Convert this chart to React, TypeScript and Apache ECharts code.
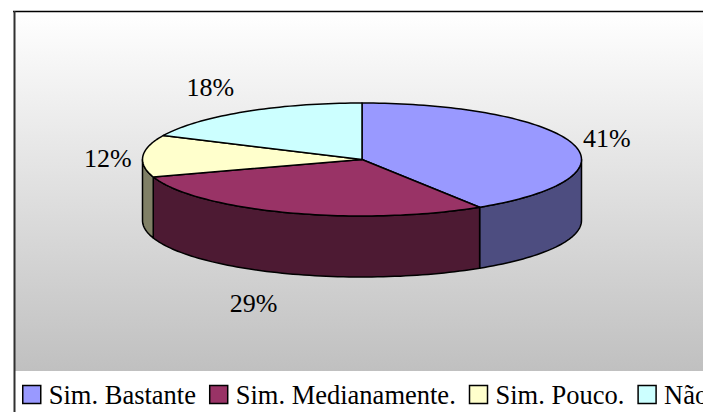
import React, { useEffect, useRef } from "react";
import * as echarts from "echarts";

const categories = ["Sim. Bastante", "Sim. Medianamente.", "Sim. Pouco.", "Não"];
const values = [41, 29, 12, 18];
const topColors = ["#9999FF", "#993366", "#FFFFCC", "#CCFFFF"];
const sideColors = ["#4D4D80", "#4D1A33", "#808066", "#668080"];
const labelOffsets = [[34, -5], [-34, 30], [-35, 3], [-34, -24]];
const legendPaddingRight = [0, 0, 5, 0];

const CX = 362;
const CY = 159.5;
const RX = 219.5;
const RY = 56.5;
const DEPTH = 61;
const FONT = '"Liberation Serif", "Times New Roman", serif';

const total = values.reduce((a, b) => a + b, 0);
const pt = (deg: number, dy = 0): number[] => {
  const r = (deg * Math.PI) / 180;
  return [CX + RX * Math.sin(r), CY - RY * Math.cos(r) + dy];
};
const arc = (a: number, b: number, dy = 0): number[][] => {
  const n = Math.max(2, Math.ceil((b - a) / 1.5));
  const out: number[][] = [];
  for (let i = 0; i <= n; i++) out.push(pt(a + ((b - a) * i) / n, dy));
  return out;
};

const makeRender = (index: number) => (_params: any, api: any) => {
  const value = api.value(0);
  const before = values.slice(0, index).reduce((a, b) => a + b, 0);
  const start = (before / total) * 360;
  const end = start + (value / total) * 360;
  const lineStyle = { stroke: "#000", lineWidth: 1.5, lineJoin: "round" };
  const children: any[] = [];
  const s = Math.max(start, 90);
  const e = Math.min(end, 270);
  if (e > s) {
    children.push({
      type: "polygon",
      shape: { points: [...arc(s, e), ...arc(s, e, DEPTH).reverse()] },
      style: { fill: sideColors[index], ...lineStyle },
    });
  }
  children.push({
    type: "polygon",
    shape: { points: [[CX, CY], ...arc(start, end)] },
    style: { fill: topColors[index], ...lineStyle },
  });
  const mid = (start + end) / 2;
  const anchor = pt(mid, mid > 90 && mid < 270 ? DEPTH : 0);
  children.push({
    type: "text",
    style: {
      x: anchor[0] + labelOffsets[index][0],
      y: anchor[1] + labelOffsets[index][1],
      text: `${Math.round((value / total) * 100)}%`,
      fill: "#000",
      font: `26px ${FONT}`,
      align: "center",
      verticalAlign: "middle",
    },
  });
  return { type: "group", children };
};

export default function App() {
  const ref = useRef<HTMLDivElement>(null);
  useEffect(() => {
    document.body.style.margin = "0";
    const chart = echarts.init(ref.current!, null, { renderer: "svg" });
    chart.setOption({
      animation: false,
      graphic: {
        elements: [
          {
            type: "rect",
            silent: true,
            z: -10,
            shape: { x: 14, y: 12, width: 689, height: 359 },
            style: {
              fill: {
                type: "linear",
                x: 0,
                y: 0,
                x2: 0,
                y2: 1,
                colorStops: [
                  { offset: 0, color: "#FFFFFF" },
                  { offset: 1, color: "#C0C0C0" },
                ],
              },
            },
          },
          { type: "line", z: -9, silent: true, shape: { x1: 13, y1: 11.5, x2: 703, y2: 11.5 }, style: { stroke: "#000", lineWidth: 1.5 } },
          { type: "line", z: -9, silent: true, shape: { x1: 14.5, y1: 11, x2: 14.5, y2: 412 }, style: { stroke: "#303030", lineWidth: 2 } },
        ],
      },
      legend: {
        left: 22,
        top: 381,
        padding: 0,
        width: 1200,
        orient: "horizontal",
        icon: "rect",
        itemWidth: 18,
        itemHeight: 18,
        itemGap: 13,
        textStyle: { fontFamily: FONT, fontSize: 26.5, color: "#000", padding: [0, 0, 0, 3] },
        data: categories.map((name, i) => ({
          name,
          itemStyle: { color: topColors[i], borderColor: "#000", borderWidth: 1.5 },
          textStyle: { padding: [0, legendPaddingRight[i], 0, 3] },
        })),
      },
      series: categories.map((name, i) => ({
        type: "custom",
        name,
        coordinateSystem: "none",
        silent: true,
        itemStyle: { color: topColors[i] },
        data: [[values[i]]],
        renderItem: makeRender(i),
      })),
    });
    return () => chart.dispose();
  }, []);
  return <div ref={ref} style={{ width: 703, height: 412 }} />;
}
